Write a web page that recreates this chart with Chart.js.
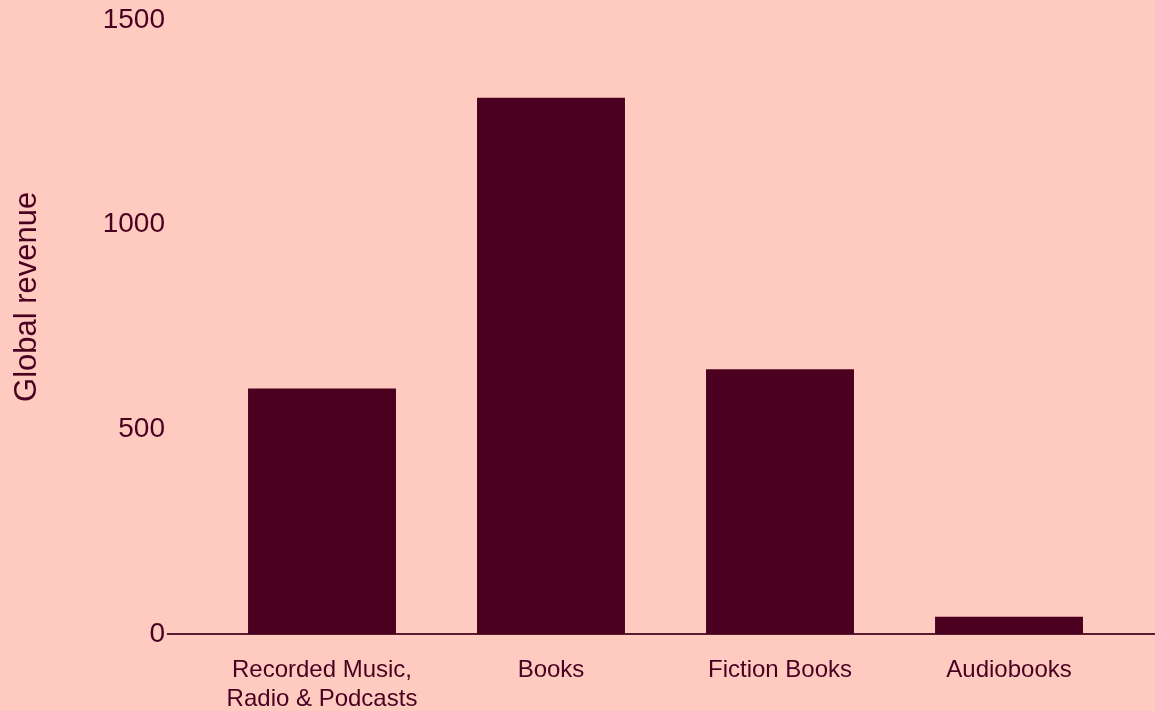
<!DOCTYPE html>
<html>
<head>
<meta charset="utf-8">
<script src="https://cdn.jsdelivr.net/npm/chart.js@4/dist/chart.umd.min.js"></script>
<style>
  html, body { margin: 0; padding: 0; background: #ffcbc0; }
  #wrap { width: 1155px; height: 711px; }
</style>
</head>
<body>
<div id="wrap"><canvas id="myChart"></canvas></div>
<script>
// revenue per media category
let categories = [["Recorded Music,", "Radio & Podcasts"], "Books", "Fiction Books", "Audiobooks"];
let revenue = [600, 1310, 647, 42];
let yTicks = [0, 500, 1000, 1500];

const ink = "#4a0020";
const barColor = "#4a001e";
const fontFamily = "'Liberation Sans', Arial, sans-serif";

let ctx = document.getElementById("myChart").getContext("2d");
let chart = new Chart(ctx, {
  type: "bar",
  data: {
    datasets: [
      {
        label: "Global revenue",
        backgroundColor: barColor,
        borderWidth: 0,
        categoryPercentage: 1,
        barPercentage: 0.646,
        data: revenue.map((v, i) => ({ x: i, y: v }))
      }
    ]
  },
  options: {
    responsive: true,
    maintainAspectRatio: false,
    animation: false,
    layout: { padding: { top: 20, right: 0, left: 0, bottom: 0 } },
    plugins: {
      legend: { display: false },
      tooltip: { enabled: false }
    },
    scales: {
      x: {
        type: "linear",
        offset: false,
        min: -0.6725,
        max: 3.6375,
        grid: { display: false, drawTicks: false },
        border: { display: true, color: "#5a1a30", width: 2 },
        afterBuildTicks: scale => {
          scale.ticks = categories.map((c, i) => ({ value: i }));
        },
        afterFit: scale => {
          scale.height = 77;
        },
        ticks: {
          autoSkip: false,
          maxRotation: 0,
          padding: 22,
          color: ink,
          font: { family: fontFamily, size: 24 },
          callback: value => categories[value] ?? ""
        }
      },
      y: {
        min: 0,
        max: 1500,
        grid: { display: false, drawTicks: false },
        border: { display: false },
        afterBuildTicks: scale => {
          scale.ticks = yTicks.map(v => ({ value: v }));
        },
        afterFit: scale => {
          scale.width = 168;
        },
        title: {
          display: true,
          // leading spaces nudge the rotated title a bit above centre
          text: "       Global revenue",
          color: ink,
          padding: { top: 9, bottom: 0 },
          font: { family: fontFamily, size: 31 }
        },
        ticks: {
          padding: 3,
          color: ink,
          font: { family: fontFamily, size: 28 },
          callback: value => String(value)
        }
      }
    }
  }
});
</script>
</body>
</html>
